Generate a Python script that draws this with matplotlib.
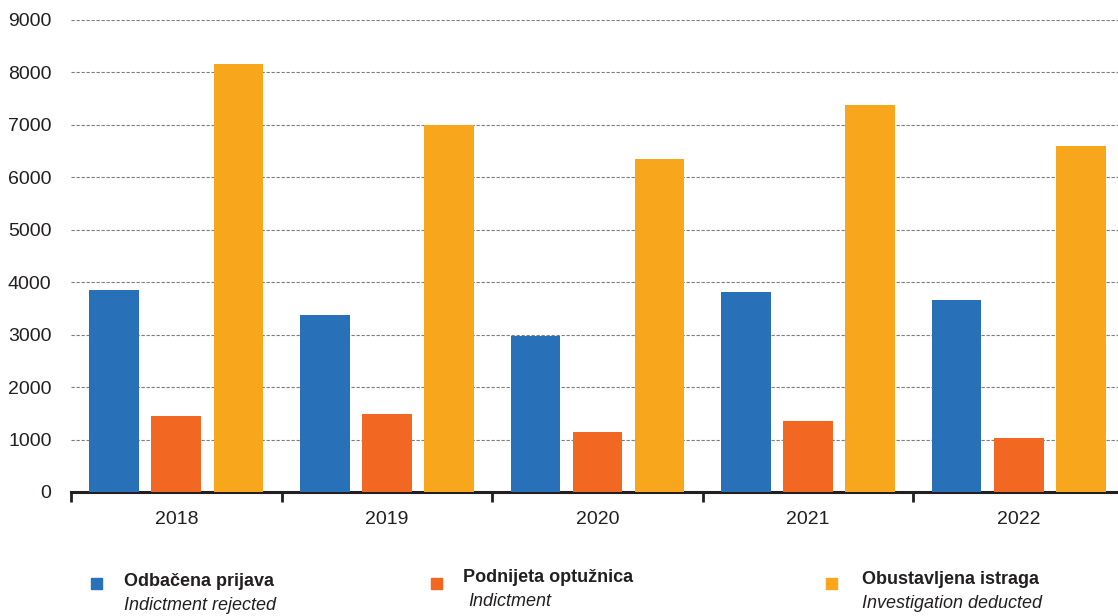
import matplotlib.pyplot as plt
import numpy as np

plt.rcParams['font.family'] = ['Liberation Sans', 'DejaVu Sans']

years = ['2018', '2019', '2020', '2021', '2022']
rejected = [3850, 3375, 2975, 3815, 3660]
indictment = [1450, 1485, 1145, 1355, 1030]
deducted = [8160, 7000, 6350, 7380, 6600]

series = [
    (rejected, '#2870b8', 'Odbačena prijava', 'Indictment rejected'),
    (indictment, '#f26722', 'Podnijeta optužnica', 'Indictment'),
    (deducted, '#f8a61c', 'Obustavljena istraga', 'Investigation deducted'),
]

fig = plt.figure(figsize=(11.18, 6.16), dpi=100)
ax = fig.add_axes([71/1118, 1 - 492/616, 1053/1118, 472/616])

x = np.arange(len(years))
w = 0.236
step = 0.295
for i, (vals, col, _, _) in enumerate(series):
    ax.bar(x + (i - 1)*step, vals, width=w, color=col, zorder=3)

ax.set_xlim(-0.5, len(years) - 0.5)
ax.set_ylim(0, 9000)
ax.set_yticks(range(0, 9001, 1000))
ax.yaxis.grid(True, linestyle=(0, (3, 1.5)), color='#7f7f7f', linewidth=0.8, zorder=0)
ax.set_xticks(x)
ax.set_xticklabels(years)
ax.set_xticks(np.arange(-0.5, len(years)), minor=True)
ax.tick_params(axis='x', which='major', length=0, pad=14, labelsize=14, colors='#231f20')
ax.tick_params(axis='x', which='minor', length=7, width=2, direction='out', color='#231f20')
ax.tick_params(axis='y', length=0, pad=14, labelsize=14, colors='#231f20')
for s in ['left', 'right', 'top']:
    ax.spines[s].set_visible(False)
ax.spines['bottom'].set_linewidth(2.2)
ax.spines['bottom'].set_color('#231f20')

# legend built by hand below the axes
legend_pos = [(91, 124, 582), (431, 463, 578), (826, 862, 580)]
for (vals, col, title, sub), (sx, tx, ty) in zip(series, legend_pos):
    fig.patches.append(plt.Rectangle((sx/1118, 1 - 589/616), 11/1118, 11/616,
                                     transform=fig.transFigure, color=col))
    fig.text(tx/1118, 1 - ty/616, title, fontsize=13, fontweight='bold',
             color='#231f20', va='center')
    fig.text((tx + (5 if sub == 'Indictment' else 0))/1118, 1 - (ty + 23)/616, sub,
             fontsize=13, fontstyle='italic', color='#231f20', va='center')

fig.savefig('out.png', dpi=100)
